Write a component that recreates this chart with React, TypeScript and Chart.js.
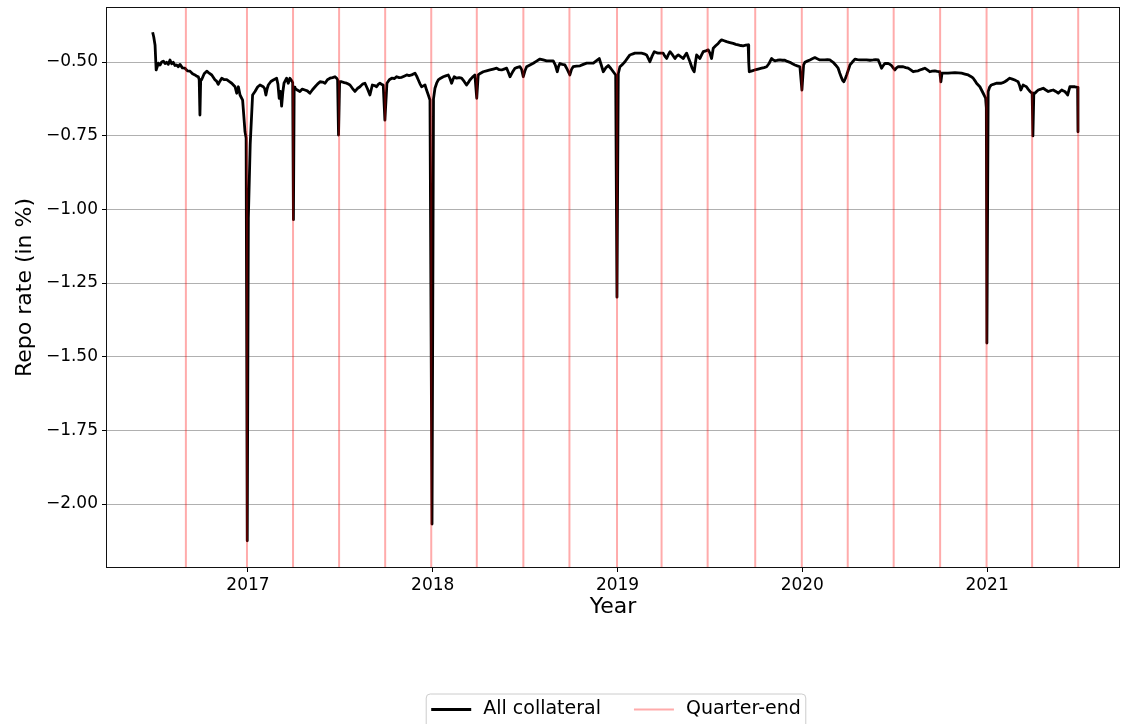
import React, { useEffect, useRef } from "react";
import { Chart, registerables } from "chart.js";

Chart.register(...registerables);

// Observation times (decimal years) and repo rate (in %)
const obsYear: number[] = [
  2016.484, 2016.490, 2016.497, 2016.503, 2016.506, 2016.515, 2016.524, 2016.533, 2016.542, 2016.551,
  2016.560, 2016.569, 2016.578, 2016.587, 2016.596, 2016.605, 2016.614, 2016.623, 2016.632, 2016.645,
  2016.659, 2016.672, 2016.686, 2016.700, 2016.713, 2016.722, 2016.731, 2016.736, 2016.740, 2016.744,
  2016.749, 2016.763, 2016.777, 2016.790, 2016.804, 2016.821, 2016.830, 2016.839, 2016.848, 2016.858,
  2016.872, 2016.885, 2016.898, 2016.912, 2016.921, 2016.930, 2016.939, 2016.948, 2016.957, 2016.971,
  2016.984, 2016.990, 2016.996, 2017.002, 2017.012, 2017.025, 2017.038, 2017.052, 2017.065, 2017.083,
  2017.090, 2017.097, 2017.104, 2017.110, 2017.124, 2017.137, 2017.155, 2017.162, 2017.169, 2017.176,
  2017.182, 2017.189, 2017.195, 2017.209, 2017.218, 2017.227, 2017.238, 2017.242, 2017.246, 2017.250,
  2017.254, 2017.267, 2017.281, 2017.294, 2017.308, 2017.321, 2017.335, 2017.349, 2017.363, 2017.376,
  2017.390, 2017.404, 2017.417, 2017.430, 2017.444, 2017.458, 2017.471, 2017.480, 2017.485, 2017.490,
  2017.496, 2017.507, 2017.521, 2017.534, 2017.543, 2017.552, 2017.566, 2017.579, 2017.592, 2017.606,
  2017.620, 2017.633, 2017.646, 2017.660, 2017.673, 2017.685, 2017.696, 2017.705, 2017.714, 2017.723,
  2017.732, 2017.741, 2017.752, 2017.765, 2017.778, 2017.792, 2017.805, 2017.818, 2017.832, 2017.845,
  2017.859, 2017.872, 2017.886, 2017.895, 2017.904, 2017.913, 2017.922, 2017.931, 2017.940, 2017.949,
  2017.958, 2017.967, 2017.976, 2017.985, 2017.996, 2018.004, 2018.012, 2018.021, 2018.030, 2018.043,
  2018.057, 2018.070, 2018.084, 2018.093, 2018.102, 2018.109, 2018.116, 2018.129, 2018.143, 2018.156,
  2018.170, 2018.183, 2018.192, 2018.201, 2018.214, 2018.228, 2018.238, 2018.246, 2018.259, 2018.273,
  2018.291, 2018.310, 2018.328, 2018.346, 2018.360, 2018.373, 2018.386, 2018.400, 2018.409, 2018.418,
  2018.431, 2018.445, 2018.458, 2018.472, 2018.481, 2018.490, 2018.499, 2018.508, 2018.526, 2018.544,
  2018.562, 2018.580, 2018.598, 2018.616, 2018.634, 2018.652, 2018.663, 2018.674, 2018.681, 2018.688,
  2018.701, 2018.715, 2018.728, 2018.742, 2018.751, 2018.760, 2018.778, 2018.797, 2018.815, 2018.833,
  2018.851, 2018.869, 2018.885, 2018.901, 2018.912, 2018.923, 2018.936, 2018.950, 2018.964, 2018.977,
  2018.990, 2018.997, 2019.004, 2019.013, 2019.027, 2019.040, 2019.054, 2019.067, 2019.080, 2019.094,
  2019.112, 2019.130, 2019.144, 2019.157, 2019.166, 2019.175, 2019.187, 2019.199, 2019.210, 2019.220,
  2019.234, 2019.247, 2019.256, 2019.266, 2019.275, 2019.284, 2019.298, 2019.311, 2019.320, 2019.329,
  2019.342, 2019.356, 2019.365, 2019.374, 2019.383, 2019.392, 2019.398, 2019.404, 2019.410, 2019.415,
  2019.422, 2019.428, 2019.437, 2019.446, 2019.455, 2019.464, 2019.478, 2019.491, 2019.500, 2019.509,
  2019.518, 2019.531, 2019.545, 2019.554, 2019.563, 2019.577, 2019.590, 2019.608, 2019.626, 2019.640,
  2019.653, 2019.667, 2019.680, 2019.694, 2019.707, 2019.710, 2019.713, 2019.728, 2019.743, 2019.761,
  2019.780, 2019.793, 2019.807, 2019.820, 2019.834, 2019.843, 2019.852, 2019.865, 2019.879, 2019.892,
  2019.906, 2019.919, 2019.933, 2019.947, 2019.960, 2019.973, 2019.987, 2019.998, 2020.007, 2020.014,
  2020.027, 2020.041, 2020.054, 2020.068, 2020.081, 2020.095, 2020.108, 2020.122, 2020.136, 2020.149,
  2020.158, 2020.167, 2020.180, 2020.194, 2020.203, 2020.213, 2020.219, 2020.225, 2020.233, 2020.240,
  2020.249, 2020.258, 2020.271, 2020.285, 2020.298, 2020.312, 2020.330, 2020.348, 2020.366, 2020.384,
  2020.397, 2020.411, 2020.420, 2020.429, 2020.438, 2020.447, 2020.465, 2020.474, 2020.483, 2020.492,
  2020.501, 2020.510, 2020.519, 2020.532, 2020.546, 2020.560, 2020.573, 2020.587, 2020.600, 2020.614,
  2020.627, 2020.636, 2020.650, 2020.663, 2020.677, 2020.690, 2020.703, 2020.717, 2020.730, 2020.744,
  2020.750, 2020.756, 2020.762, 2020.776, 2020.789, 2020.808, 2020.826, 2020.844, 2020.862, 2020.880,
  2020.898, 2020.912, 2020.925, 2020.934, 2020.943, 2020.952, 2020.961, 2020.970, 2020.979, 2020.986,
  2020.992, 2020.996, 2020.999, 2021.006, 2021.014, 2021.023, 2021.037, 2021.050, 2021.064, 2021.077,
  2021.086, 2021.096, 2021.110, 2021.123, 2021.137, 2021.150, 2021.159, 2021.168, 2021.176, 2021.183,
  2021.189, 2021.195, 2021.204, 2021.213, 2021.222, 2021.232, 2021.238, 2021.244, 2021.248, 2021.253,
  2021.259, 2021.268, 2021.277, 2021.291, 2021.304, 2021.318, 2021.331, 2021.345, 2021.358, 2021.372,
  2021.385, 2021.395, 2021.404, 2021.412, 2021.421, 2021.429, 2021.436, 2021.442, 2021.448, 2021.462,
  2021.475, 2021.483, 2021.490, 2021.492,
];

const repoRate: number[] = [
  -0.399, -0.415, -0.442, -0.527, -0.527, -0.504, -0.510, -0.500, -0.497, -0.505,
  -0.501, -0.508, -0.493, -0.506, -0.501, -0.512, -0.510, -0.516, -0.508, -0.520,
  -0.521, -0.530, -0.531, -0.540, -0.544, -0.548, -0.550, -0.560, -0.680, -0.560,
  -0.560, -0.540, -0.531, -0.538, -0.544, -0.560, -0.565, -0.576, -0.565, -0.555,
  -0.560, -0.560, -0.566, -0.572, -0.578, -0.584, -0.606, -0.584, -0.612, -0.629,
  -0.737, -0.758, -2.125, -1.030, -0.780, -0.612, -0.600, -0.585, -0.578, -0.584,
  -0.590, -0.612, -0.590, -0.578, -0.566, -0.561, -0.555, -0.575, -0.623, -0.600,
  -0.650, -0.600, -0.572, -0.555, -0.572, -0.555, -0.565, -0.570, -1.035, -0.585,
  -0.589, -0.595, -0.600, -0.592, -0.595, -0.598, -0.606, -0.594, -0.584, -0.575,
  -0.567, -0.568, -0.572, -0.560, -0.555, -0.553, -0.550, -0.555, -0.560, -0.748,
  -0.567, -0.567, -0.570, -0.572, -0.575, -0.578, -0.590, -0.600, -0.590, -0.584,
  -0.575, -0.572, -0.590, -0.612, -0.578, -0.580, -0.584, -0.576, -0.572, -0.576,
  -0.578, -0.697, -0.572, -0.560, -0.555, -0.556, -0.550, -0.553, -0.552, -0.548,
  -0.544, -0.546, -0.544, -0.541, -0.538, -0.548, -0.561, -0.574, -0.584, -0.581,
  -0.578, -0.596, -0.612, -0.629, -2.068, -0.625, -0.589, -0.572, -0.561, -0.555,
  -0.550, -0.547, -0.544, -0.556, -0.572, -0.560, -0.550, -0.555, -0.553, -0.555,
  -0.566, -0.578, -0.570, -0.561, -0.552, -0.544, -0.623, -0.544, -0.538, -0.533,
  -0.530, -0.527, -0.524, -0.521, -0.526, -0.527, -0.524, -0.521, -0.535, -0.550,
  -0.535, -0.521, -0.518, -0.516, -0.525, -0.550, -0.530, -0.516, -0.510, -0.504,
  -0.497, -0.490, -0.493, -0.496, -0.496, -0.496, -0.510, -0.533, -0.515, -0.505,
  -0.508, -0.510, -0.525, -0.544, -0.525, -0.516, -0.514, -0.513, -0.508, -0.504,
  -0.504, -0.504, -0.496, -0.488, -0.510, -0.533, -0.520, -0.512, -0.522, -0.533,
  -0.544, -1.298, -0.540, -0.516, -0.508, -0.499, -0.487, -0.476, -0.473, -0.470,
  -0.470, -0.470, -0.472, -0.476, -0.487, -0.499, -0.480, -0.465, -0.468, -0.470,
  -0.470, -0.470, -0.480, -0.488, -0.475, -0.465, -0.476, -0.488, -0.480, -0.476,
  -0.482, -0.488, -0.478, -0.470, -0.485, -0.499, -0.510, -0.521, -0.528, -0.533,
  -0.500, -0.476, -0.482, -0.488, -0.476, -0.465, -0.462, -0.459, -0.470, -0.488,
  -0.453, -0.445, -0.437, -0.430, -0.425, -0.428, -0.431, -0.434, -0.437, -0.440,
  -0.442, -0.444, -0.445, -0.443, -0.442, -0.500, -0.533, -0.530, -0.527, -0.524,
  -0.521, -0.519, -0.516, -0.505, -0.488, -0.493, -0.496, -0.494, -0.493, -0.494,
  -0.494, -0.498, -0.501, -0.506, -0.510, -0.513, -0.516, -0.595, -0.510, -0.501,
  -0.497, -0.493, -0.489, -0.485, -0.489, -0.493, -0.493, -0.493, -0.492, -0.493,
  -0.497, -0.501, -0.510, -0.521, -0.538, -0.555, -0.563, -0.567, -0.556, -0.544,
  -0.527, -0.510, -0.500, -0.490, -0.492, -0.493, -0.493, -0.493, -0.494, -0.493,
  -0.492, -0.493, -0.507, -0.521, -0.512, -0.505, -0.505, -0.508, -0.512, -0.520,
  -0.527, -0.520, -0.516, -0.516, -0.516, -0.519, -0.521, -0.527, -0.533, -0.531,
  -0.530, -0.527, -0.524, -0.521, -0.527, -0.533, -0.531, -0.530, -0.532, -0.533,
  -0.567, -0.538, -0.538, -0.538, -0.538, -0.537, -0.536, -0.537, -0.538, -0.541,
  -0.544, -0.549, -0.555, -0.563, -0.572, -0.578, -0.584, -0.595, -0.606, -0.615,
  -0.623, -0.656, -1.454, -0.600, -0.585, -0.578, -0.575, -0.572, -0.572, -0.572,
  -0.570, -0.567, -0.561, -0.555, -0.558, -0.561, -0.564, -0.567, -0.580, -0.595,
  -0.586, -0.578, -0.581, -0.584, -0.592, -0.600, -0.603, -0.606, -0.751, -0.606,
  -0.606, -0.600, -0.595, -0.592, -0.589, -0.595, -0.600, -0.597, -0.595, -0.600,
  -0.606, -0.600, -0.595, -0.598, -0.600, -0.606, -0.612, -0.598, -0.584, -0.584,
  -0.584, -0.585, -0.586, -0.737,
];

const quarterEnds: string[] = [
  "2016-08-31", "2016-12-30", "2017-03-31", "2017-06-30", "2017-09-29",
  "2017-12-29", "2018-03-29", "2018-06-29", "2018-09-28", "2018-12-31",
  "2019-03-29", "2019-06-28", "2019-09-30", "2019-12-31", "2020-03-31",
  "2020-06-30", "2020-09-30", "2020-12-31", "2021-03-31", "2021-06-30",
];

const xTicks: number[] = [2017, 2018, 2019, 2020, 2021];
const yTicks: number[] = [-0.5, -0.75, -1.0, -1.25, -1.5, -1.75, -2.0];
const legendLabels: string[] = ["All collateral", "Quarter-end"];

const X_MIN = 2016.237;
const X_MAX = 2021.714;
const Y_MIN = -2.2138;
const Y_MAX = -0.3167;

const FONT = "'DejaVu Sans', 'Liberation Sans', sans-serif";
const QUARTER_COLOR = "rgba(255, 0, 0, 0.33)";

function toYear(date: string): number {
  const d = new Date(date + "T00:00:00Z");
  const y = d.getUTCFullYear();
  const start = Date.UTC(y, 0, 1);
  const end = Date.UTC(y + 1, 0, 1);
  return y + (d.getTime() - start) / (end - start);
}

function fmtY(v: number): string {
  const s = Math.abs(v).toFixed(2);
  return v < 0 ? "\u2212" + s : s;
}

const overlayPlugin = {
  id: "overlay",
  afterDatasetsDraw(chart: any) {
    const { ctx, chartArea: a, scales } = chart;
    const xs = scales.x;
    ctx.save();
    ctx.beginPath();
    ctx.rect(a.left, a.top, a.right - a.left, a.bottom - a.top);
    ctx.clip();
    ctx.strokeStyle = QUARTER_COLOR;
    ctx.lineWidth = 2;
    for (const q of quarterEnds) {
      const px = xs.getPixelForValue(toYear(q));
      ctx.beginPath();
      ctx.moveTo(px, a.top);
      ctx.lineTo(px, a.bottom);
      ctx.stroke();
    }
    ctx.restore();

    ctx.save();
    ctx.strokeStyle = "#111";
    ctx.lineWidth = 1;
    ctx.strokeRect(Math.round(a.left) - 0.5, Math.round(a.top) - 0.5, Math.round(a.right - a.left) + 1, Math.round(a.bottom - a.top) + 1);
    ctx.restore();
  },
  afterDraw(chart: any) {
    const { ctx, chartArea: a } = chart;
    ctx.save();
    ctx.font = `19px ${FONT}`;
    const lineLen = 40;
    const gapTxt = 12;
    const gapItem = 33;
    const pad = 5;
    const w0 = ctx.measureText(legendLabels[0]).width;
    const w1 = ctx.measureText(legendLabels[1]).width;
    const total = pad + lineLen + gapTxt + w0 + gapItem + lineLen + gapTxt + w1 + pad;
    const cx = (a.left + a.right) / 2 + 3;
    const left = cx - total / 2;
    const top = 694;
    const h = 40;
    const r = 4;
    ctx.beginPath();
    ctx.moveTo(left + r, top);
    ctx.lineTo(left + total - r, top);
    ctx.quadraticCurveTo(left + total, top, left + total, top + r);
    ctx.lineTo(left + total, top + h);
    ctx.lineTo(left, top + h);
    ctx.lineTo(left, top + r);
    ctx.quadraticCurveTo(left, top, left + r, top);
    ctx.closePath();
    ctx.fillStyle = "rgba(255,255,255,0.8)";
    ctx.fill();
    ctx.strokeStyle = "#cccccc";
    ctx.lineWidth = 1;
    ctx.stroke();

    const cy = top + 15.5;
    let x = left + pad;
    ctx.strokeStyle = "#000";
    ctx.lineWidth = 3;
    ctx.beginPath();
    ctx.moveTo(x, cy);
    ctx.lineTo(x + lineLen, cy);
    ctx.stroke();
    x += lineLen + gapTxt;
    ctx.fillStyle = "#000";
    ctx.textBaseline = "middle";
    ctx.textAlign = "left";
    ctx.fillText(legendLabels[0], x, cy);
    x += w0 + gapItem;
    ctx.strokeStyle = QUARTER_COLOR;
    ctx.lineWidth = 2;
    ctx.beginPath();
    ctx.moveTo(x, cy);
    ctx.lineTo(x + lineLen, cy);
    ctx.stroke();
    x += lineLen + gapTxt;
    ctx.fillText(legendLabels[1], x, cy);
    ctx.restore();
  },
};

export default function App() {
  const canvasRef = useRef<HTMLCanvasElement | null>(null);

  useEffect(() => {
    document.body.style.margin = "0";
    const canvas = canvasRef.current;
    if (!canvas) return;
    const chart = new Chart(canvas, {
      type: "line",
      data: {
        datasets: [
          {
            label: legendLabels[0],
            data: obsYear.map((x, i) => ({ x, y: repoRate[i] })),
            borderColor: "#000",
            backgroundColor: "#000",
            borderWidth: 2.8,
            pointRadius: 0,
            tension: 0,
            fill: false,
            borderJoinStyle: "round",
          },
        ],
      },
      options: {
        animation: false,
        responsive: false,
        devicePixelRatio: 1,
        events: [],
        layout: { padding: { left: 0, right: 2, top: 8, bottom: 97 } },
        plugins: {
          legend: { display: false },
          tooltip: { enabled: false },
        },
        scales: {
          x: {
            type: "linear",
            min: X_MIN,
            max: X_MAX,
            afterBuildTicks: (s: any) => {
              s.ticks = xTicks.map((v) => ({ value: v }));
            },
            afterFit: (s: any) => {
              s.height = 60;
              s.paddingLeft = 0;
              s.paddingRight = 0;
            },
            ticks: {
              callback: (v: any) => String(v),
              font: { family: FONT, size: 17 },
              color: "#000",
              padding: 3,
              maxRotation: 0,
              autoSkip: false,
            },
            grid: {
              drawOnChartArea: false,
              drawTicks: true,
              tickLength: 5,
              tickColor: "#000",
            },
            border: { display: false },
            title: {
              display: true,
              text: "Year",
              color: "#000",
              font: { family: FONT, size: 22 },
              padding: { top: 0, bottom: 7 },
            },
          },
          y: {
            type: "linear",
            min: Y_MIN,
            max: Y_MAX,
            afterBuildTicks: (s: any) => {
              s.ticks = yTicks.map((v) => ({ value: v }));
            },
            afterFit: (s: any) => {
              s.width = 107;
              s.paddingTop = 0;
              s.paddingBottom = 0;
            },
            ticks: {
              callback: (v: any) => fmtY(Number(v)),
              font: { family: FONT, size: 17 },
              color: "#000",
              padding: 4,
            },
            grid: {
              color: "#b0b0b0",
              lineWidth: 1,
              drawTicks: true,
              tickLength: 5,
              tickColor: "#000",
            },
            border: { display: false },
            title: {
              display: true,
              text: "Repo rate (in %)",
              color: "#000",
              font: { family: FONT, size: 22 },
              padding: { top: 12, bottom: 0 },
            },
          },
        },
      },
      plugins: [overlayPlugin],
    } as any);
    return () => chart.destroy();
  }, []);

  return (
    <div style={{ position: "absolute", left: 0, top: 0, width: 1121, height: 724, background: "#fff" }}>
      <canvas ref={canvasRef} width={1121} height={724} style={{ display: "block", width: 1121, height: 724 }} />
    </div>
  );
}
